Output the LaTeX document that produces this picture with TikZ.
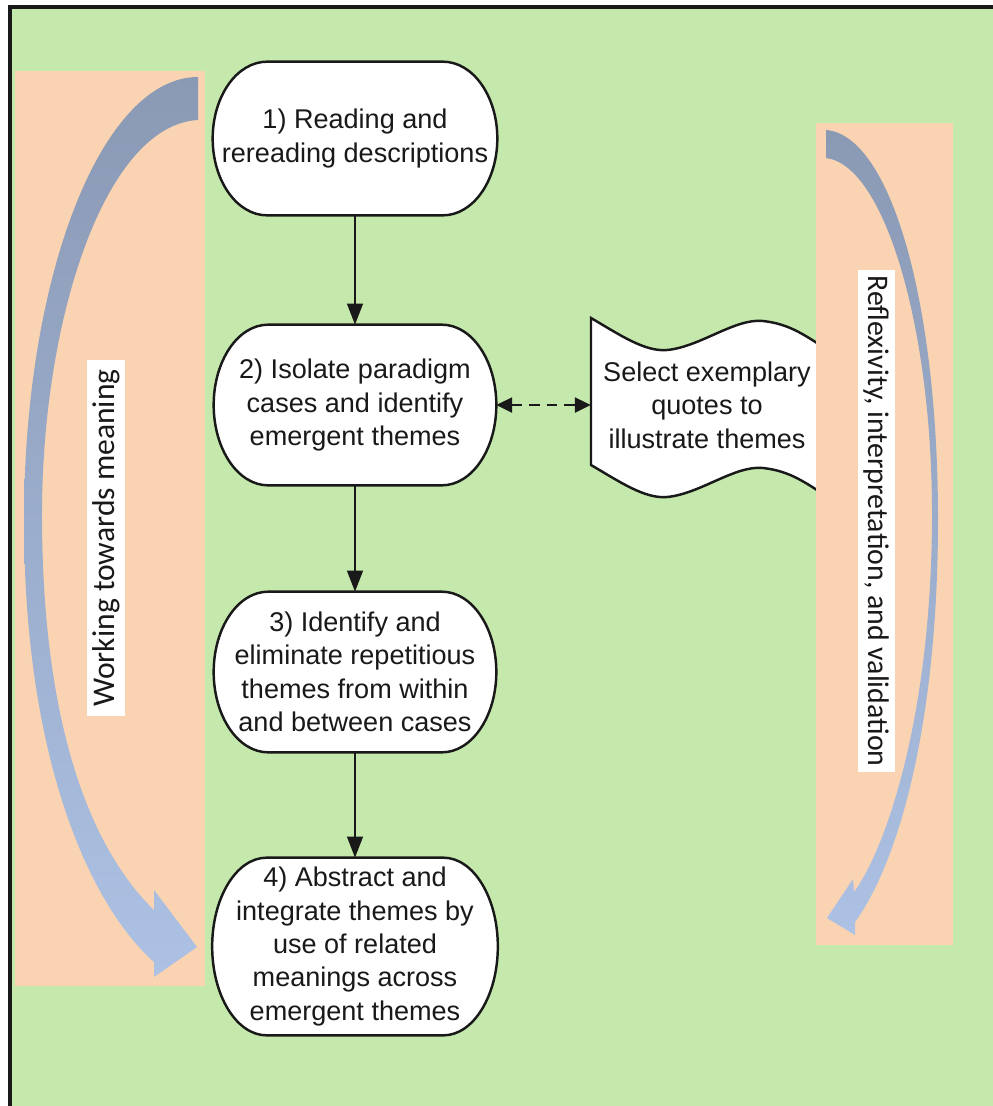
\documentclass[tikz,border=0pt]{standalone}
\usepackage{fontspec}
\setmainfont{Liberation Sans}
\newfontfamily\labelfont{Carlito}
\usetikzlibrary{arrows.meta,calc}
\pgfdeclarelayer{bg}
\pgfsetlayers{bg,main}
\definecolor{fieldgreen}{RGB}{197,232,173}
\definecolor{peach}{RGB}{250,212,178}
\definecolor{arcdark}{RGB}{138,153,180}
\definecolor{arclight}{RGB}{172,193,228}
\definecolor{ink}{RGB}{25,25,25}

\tikzset{
  stepnode/.style={inner sep=0pt, align=center, text=ink,
    font=\fontsize{15.4}{19}\selectfont},
  stadium/.style={draw=ink, fill=white, line width=1.4pt},
  flow/.style={draw=ink, line width=1.1pt, -{Triangle[width=9pt,length=12pt]}},
  link/.style={draw=ink, line width=1.4pt, dash pattern=on 6pt off 4pt,
    {Triangle[width=8.5pt,length=9pt]}-{Triangle[width=8.5pt,length=9pt]}},
  sidelabel/.style={fill=white, inner sep=0pt, text=ink},
}

% terminator outline with elliptic ends, laid round a named node
\newcommand\drawstadium[2]{%
  \draw[stadium] let \p1=(#1.north west), \p2=(#1.south east),
      \n1={(\y1-\y2)/2} in
    (\x1+#2,\y1) -- (\x2-#2,\y1)
    arc[start angle=90,end angle=-90,x radius=#2,y radius=\n1]
    -- (\x1+#2,\y2)
    arc[start angle=270,end angle=90,x radius=#2,y radius=\n1] -- cycle;}

\begin{document}
\begin{tikzpicture}[x=0.02cm,y=-0.02cm]
\useasboundingbox (0,0) rectangle (993,1106);

% process steps
\node[stepnode, minimum width=5.68cm, minimum height=3.06cm] (n1) at (355,138.5)
  {1) Reading and\\rereading descriptions};
\node[stepnode, minimum width=5.64cm, minimum height=3.2cm] (n2) at (355,405)
  {2) Isolate paradigm\\cases and identify\\emergent themes};
\node[stepnode, minimum width=5.64cm, minimum height=3.2cm] (n3) at (355,672)
  {3) Identify and\\eliminate repetitious\\themes from within\\and between cases};
\node[stepnode, minimum width=5.7cm, minimum height=3.54cm] (n4) at (355,946.5)
  {4) Abstract and\\integrate themes by\\use of related\\meanings across\\emergent themes};
\node[stepnode, minimum width=4.64cm, minimum height=2.94cm] (q) at (707,405)
  {Select exemplary\\quotes to\\illustrate themes};

% side labels
\node[sidelabel, rotate=90, minimum width=7.14cm, minimum height=0.76cm,
  font=\labelfont\fontsize{18}{20}\selectfont] (wm) at (106,538)
  {Working towards meaning};
\node[sidelabel, rotate=-90, minimum width=10.06cm, minimum height=0.74cm,
  font=\labelfont\fontsize{17}{20}\selectfont] (riv) at (876,521)
  {Reflexivity, interpretation, and validation};

\begin{pgfonlayer}{bg}
  \fill[white] (0,0) rectangle (993,1106);
  \fill[fieldgreen] (10,7) rectangle (993,1106);
  \draw[line width=2.2pt, black!90] (10,1106) -- (10,7) -- (993,7);

  % wavy document behind the right-hand band
  \draw[stadium] (591,318) .. controls (620,335) and (645,352) .. (667,350)
    .. controls (700,347) and (735,318) .. (763,321)
    .. controls (790,324) and (805,335) .. (835,355) -- (835,502)
    .. controls (805,482) and (790,471) .. (763,468)
    .. controls (735,465) and (700,494) .. (667,497)
    .. controls (645,499) and (620,482) .. (591,465) -- cycle;

  % side bands
  \fill[peach] (15,71) rectangle (205,986);
  \fill[peach] (816,123) rectangle (953,945);

  % curved band arrows
  \shade[top color=arcdark, bottom color=arclight]
    (198,77) .. controls (102,77) and (24,275) .. (24,520)
    .. controls (24,770) and (95,910) .. (154,962)
    -- (154,977) -- (197,947) -- (154,890) -- (154,910)
    .. controls (97,855) and (43,740) .. (42,520)
    .. controls (41,320) and (105,125) .. (198,120) -- cycle;
  \shade[top color=arcdark, bottom color=arclight]
    (826,130) .. controls (890,135) and (938,300) .. (938,520)
    .. controls (938,720) and (900,860) .. (855,922)
    -- (855,935) -- (827,918) -- (853,879) -- (854,892)
    .. controls (885,850) and (931,720) .. (932,520)
    .. controls (933,330) and (885,165) .. (826,158) -- cycle;

  % step outlines
  \drawstadium{n1}{31pt}
  \drawstadium{n2}{31pt}
  \drawstadium{n3}{31pt}
  \drawstadium{n4}{31pt}
\end{pgfonlayer}

% connectors
\draw[flow] (n1) -- (n2);
\draw[flow] (n2) -- (n3);
\draw[flow] (n3) -- (n4);
\draw[link] (n2) -- (q);
\end{tikzpicture}
\end{document}
